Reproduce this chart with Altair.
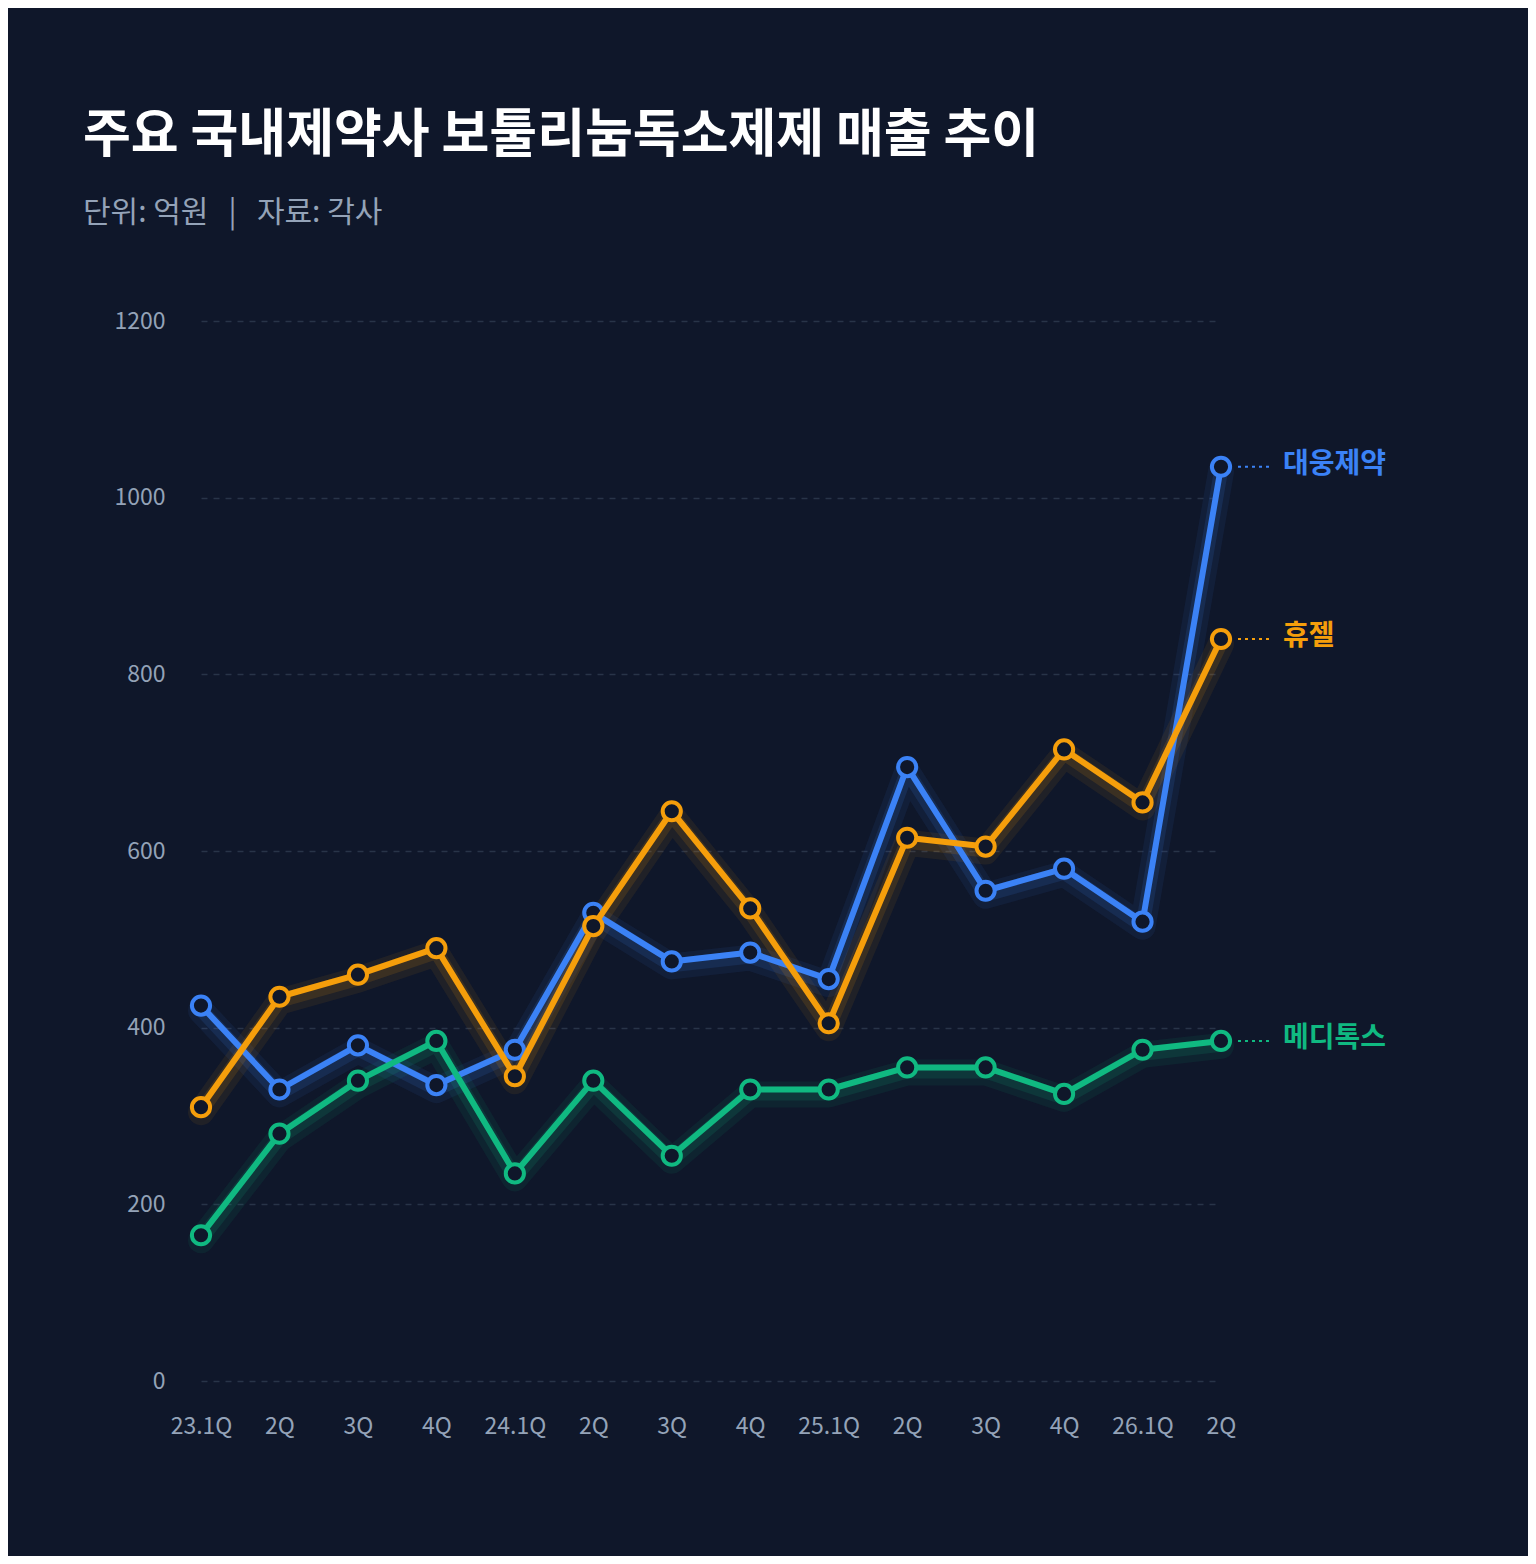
import altair as alt
import pandas as pd

quarters = ["23.1Q", "23.2Q", "23.3Q", "23.4Q", "24.1Q", "24.2Q", "24.3Q", "24.4Q",
            "25.1Q", "25.2Q", "25.3Q", "25.4Q", "26.1Q", "26.2Q"]
tick_labels = ["23.1Q", "2Q", "3Q", "4Q", "24.1Q", "2Q", "3Q", "4Q",
               "25.1Q", "2Q", "3Q", "4Q", "26.1Q", "2Q"]
series_names = ["대웅제약", "휴젤", "메디톡스"]
daewoong = [425, 330, 380, 335, 375, 530, 475, 485, 455, 695, 555, 580, 520, 1035]
hugel = [310, 435, 460, 490, 345, 515, 645, 535, 405, 615, 605, 715, 655, 840]
medytox = [165, 280, 340, 385, 235, 340, 255, 330, 330, 355, 355, 325, 375, 385]
colors = ["#3b82f6", "#f59e0b", "#10b981"]
y_ticks = [0, 200, 400, 600, 800, 1000, 1200]

BG = "#0f172a"
FONT = "Noto Sans CJK KR"
NB = "\u00a0"

rows = []
for name, vals in zip(series_names, [daewoong, hugel, medytox]):
    for i, (q, v) in enumerate(zip(quarters, vals)):
        rows.append({"series": name, "idx": i, "quarter": q, "value": v})
df = pd.DataFrame(rows)
last = df[df["idx"] == len(quarters) - 1]

label_js = "[" + ",".join("'" + t + "'" for t in tick_labels) + "]"

x = alt.X("idx:Q", scale=alt.Scale(domain=[0, len(quarters) - 1], nice=False, zero=False),
          axis=alt.Axis(values=list(range(len(quarters))), labelExpr=label_js + "[datum.value]",
                        grid=False, ticks=False, domain=False, labelPadding=34,
                        labelFlush=False, labelOverlap=False,
                        labelFontSize=23, labelColor="#94a3b8", labelFont=FONT, title=None))
y = alt.Y("value:Q", scale=alt.Scale(domain=[0, 1200], nice=False),
          axis=alt.Axis(values=y_ticks, format="d", grid=True, gridColor="#334155", gridDash=[6, 6],
                        gridOpacity=0.7, gridWidth=1.5, ticks=False, domain=False,
                        labelPadding=36, labelFontSize=23, labelColor="#94a3b8",
                        labelFont=FONT, title=None))
color = alt.Color("series:N", scale=alt.Scale(domain=series_names, range=colors), legend=None)

base = alt.Chart(df)

layers = []
layers.append(base.mark_line(strokeWidth=26, opacity=0.08, yOffset=5, strokeCap="round", strokeJoin="round")
              .encode(x=x, y=y, color=color, detail="series:N"))
layers.append(base.mark_line(strokeWidth=14, opacity=0.13, yOffset=4, strokeCap="round", strokeJoin="round")
              .encode(x=x, y=y, color=color, detail="series:N"))
for name in series_names:
    sub = base.transform_filter(alt.datum.series == name)
    layers.append(sub.mark_line(strokeWidth=6, strokeCap="round", strokeJoin="round")
                  .encode(x=x, y=y, color=color))
    layers.append(sub.mark_point(filled=False, size=330, strokeWidth=4, fill=BG, fillOpacity=1, opacity=1)
                  .encode(x=x, y=y, color=color))

lab = alt.Chart(last)
layers.append(lab.mark_rule(strokeDash=[3, 4], strokeWidth=2, xOffset=17, x2Offset=52)
              .encode(x=x, x2="idx:Q", y=y, color=color))
layers.append(lab.mark_text(align="left", baseline="middle", dx=62, dy=-2, fontSize=28,
                            fontWeight="bold", font=FONT)
              .encode(x=x, y=y, text="series:N", color=color))

chart = alt.layer(*layers).properties(
    width=1020, height=1060,
    padding={"left": 193, "top": 313, "right": 307, "bottom": 175},
    autosize=alt.AutoSizeParams(type="none"),
    background=BG,
    title=alt.TitleParams(
        text="주요 국내제약사 보툴리눔독소제제 매출 추이",
        subtitle="단위: 억원" + NB * 3 + "|" + NB * 3 + "자료: 각사",
        anchor="start", frame="group", dx=-118, offset=81,
        font=FONT, fontSize=52, fontWeight="bold", color="#ffffff",
        subtitleFont=FONT, subtitleFontSize=30, subtitleColor="#94a3b8",
        subtitlePadding=35,
    ),
).configure_view(stroke=None)

chart.save("out.html", embed_options={"renderer": "svg", "actions": False})
